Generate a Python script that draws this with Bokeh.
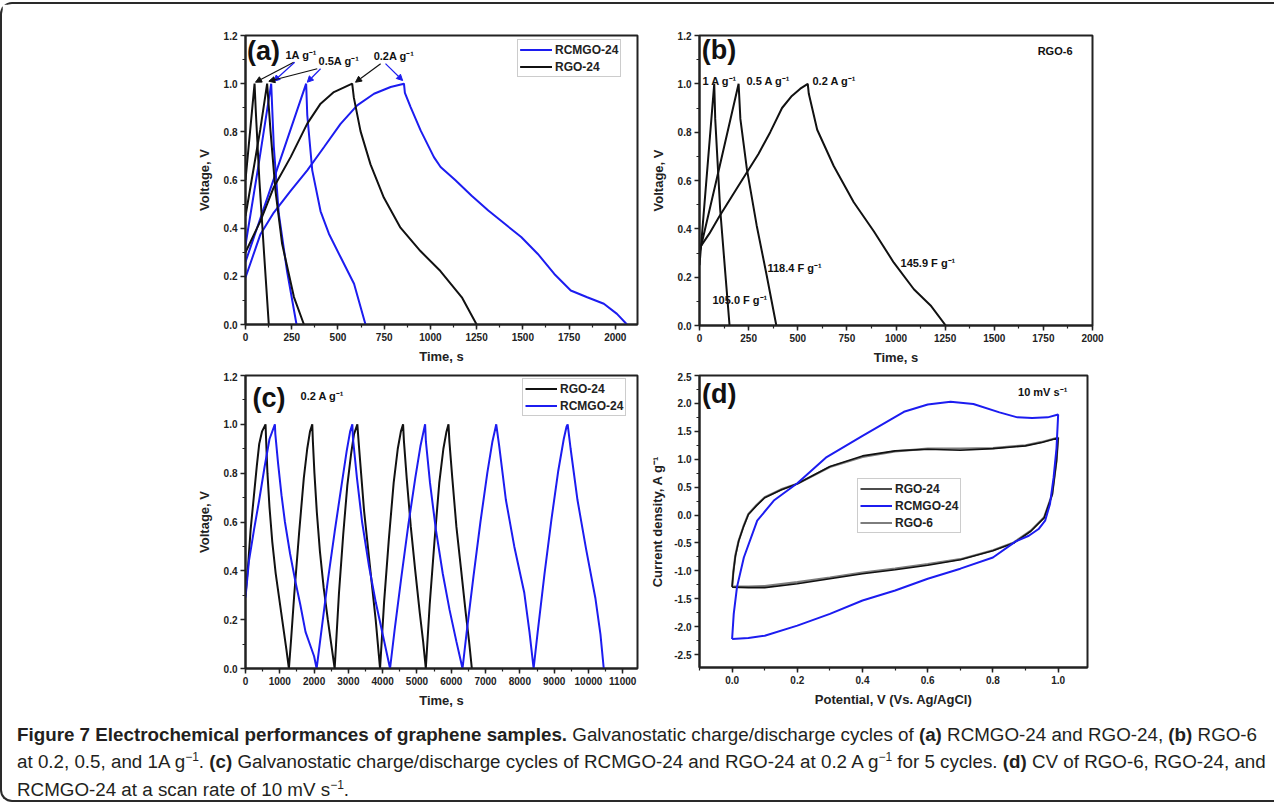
from bokeh.plotting import figure
from bokeh.models import (Range1d, SingleIntervalTicker, PrintfTickFormatter, Label,
                          Arrow, NormalHead, Legend, LegendItem, Div)
from bokeh.layouts import column, row
from bokeh.embed import file_html
from bokeh.resources import INLINE

FONT = "Liberation Sans"
BLUE = "#1c1cf0"
BLACK = "#111111"
GRAY = "#7d7d7d"

# ---------------- panel (a): RCMGO-24 and RGO-24 at 1, 0.5, 0.2 A/g ----------------
a_rgo_1A_t = [0, 49, 56, 75, 100, 126]
a_rgo_1A_v = [0.60, 1.0, 0.88, 0.60, 0.30, 0.0]
a_rgo_05A_t = [0, 40, 80, 117, 135, 162, 198, 262, 316]
a_rgo_05A_v = [0.45, 0.63, 0.81, 1.0, 0.806, 0.556, 0.335, 0.114, 0.0]
a_rgo_02A_t = [0, 81, 153, 244, 334, 406, 478, 577, 586, 622, 676, 748, 838, 946, 1054, 1170, 1250]
a_rgo_02A_v = [0.30, 0.43, 0.57, 0.695, 0.834, 0.917, 0.965, 1.0, 0.942, 0.803, 0.665, 0.527,
               0.402, 0.305, 0.222, 0.113, 0.0]
a_rcm_1A_t = [0, 70, 139, 153, 180, 225, 276]
a_rcm_1A_v = [0.33, 0.66, 1.0, 0.74, 0.46, 0.22, 0.0]
a_rcm_05A_t = [0, 160, 328, 334, 361, 406, 451, 514, 587, 649]
a_rcm_05A_v = [0.26, 0.62, 1.0, 0.87, 0.64, 0.47, 0.377, 0.28, 0.169, 0.0]
a_rcm_02A_t = [0, 81, 153, 244, 334, 424, 514, 604, 695, 785, 857, 862, 893, 947, 1019, 1055,
               1134, 1223, 1313, 1402, 1491, 1581, 1670, 1759, 1848, 1938, 2009, 2063]
a_rcm_02A_v = [0.195, 0.375, 0.465, 0.555, 0.64, 0.736, 0.833, 0.91, 0.958, 0.986, 1.0, 0.962,
               0.903, 0.806, 0.695, 0.654, 0.60, 0.535, 0.473, 0.418, 0.363, 0.293, 0.21,
               0.141, 0.113, 0.086, 0.044, 0.0]

# ---------------- panel (b): RGO-6 ----------------
b_1A_t = [0, 75, 80, 105, 131, 153]
b_1A_v = [0.25, 1.0, 0.855, 0.483, 0.22, 0.0]
b_05A_t = [0, 100, 199, 208, 241, 291, 342, 391]
b_05A_v = [0.30, 0.65, 1.0, 0.855, 0.648, 0.414, 0.207, 0.0]
b_02A_t = [0, 50, 100, 200, 300, 360, 420, 470, 513, 551, 556, 599, 683, 785, 887, 989, 1091,
           1176, 1253]
b_02A_v = [0.32, 0.38, 0.45, 0.58, 0.71, 0.80, 0.90, 0.95, 0.98, 1.0, 0.96, 0.81, 0.66, 0.51,
           0.39, 0.26, 0.15, 0.083, 0.0]

# ---------------- panel (c): 5 cycles at 0.2 A/g ----------------
c_rgo_t = [0, 80, 150, 240, 330, 400, 480, 584, 600, 640, 700, 780, 880, 1000, 1120, 1190, 1266,
           1330, 1420, 1560, 1700, 1800, 1880, 1947, 1965, 2010, 2080, 2170, 2280, 2400, 2500, 2600,
           2726, 2850, 2969, 3080, 3164, 3261, 3310, 3456, 3651, 3797, 3923,
           4040, 4180, 4320, 4440, 4530, 4595, 4620, 4700, 4820, 4950, 5080, 5180, 5257,
           5370, 5510, 5650, 5770, 5860, 5919, 5945, 6030, 6150, 6290, 6420, 6520, 6600]
c_rgo_v = [0.30, 0.43, 0.57, 0.70, 0.83, 0.92, 0.97, 1.0, 0.94, 0.80, 0.66, 0.52, 0.39, 0.27, 0.15, 0.08, 0.0,
           0.12, 0.30, 0.55, 0.78, 0.90, 0.97, 1.0, 0.93, 0.80, 0.64, 0.48, 0.33, 0.20, 0.10, 0.0,
           0.31, 0.55, 0.75, 0.88, 0.96, 1.0, 0.907, 0.648, 0.389, 0.198, 0.0,
           0.27, 0.53, 0.76, 0.90, 0.97, 1.0, 0.93, 0.78, 0.58, 0.40, 0.23, 0.11, 0.0,
           0.26, 0.52, 0.76, 0.90, 0.97, 1.0, 0.93, 0.78, 0.58, 0.40, 0.23, 0.11, 0.0]
c_rcm_t = [0, 100, 250, 400, 550, 700, 857, 870, 950, 1050, 1150, 1300, 1450, 1600, 1750, 1900, 2000, 2074,
           2200, 2400, 2600, 2800, 2950, 3050, 3115, 3135, 3250, 3400, 3600, 3800, 4000, 4215,
           4350, 4550, 4750, 4950, 5100, 5190, 5237, 5260, 5380, 5550, 5750, 5950, 6150, 6328,
           6450, 6650, 6850, 7050, 7200, 7280, 7311, 7399, 7593, 7837, 8129, 8280, 8401,
           8520, 8720, 8920, 9120, 9280, 9360, 9394, 9480, 9680, 9930, 10200, 10350, 10446]
c_rcm_v = [0.29, 0.44, 0.57, 0.69, 0.82, 0.94, 1.0, 0.96, 0.84, 0.71, 0.60, 0.47, 0.36, 0.26, 0.15, 0.09, 0.05, 0.0,
           0.14, 0.36, 0.56, 0.75, 0.89, 0.97, 1.0, 0.94, 0.78, 0.60, 0.42, 0.27, 0.14, 0.0,
           0.16, 0.38, 0.59, 0.78, 0.91, 0.97, 1.0, 0.93, 0.76, 0.57, 0.39, 0.24, 0.11, 0.0,
           0.15, 0.38, 0.60, 0.80, 0.93, 0.98, 1.0, 0.91, 0.69, 0.50, 0.31, 0.15, 0.0,
           0.15, 0.39, 0.61, 0.81, 0.94, 0.99, 1.0, 0.90, 0.69, 0.49, 0.29, 0.14, 0.0]

# ---------------- panel (d): CV at 10 mV/s ----------------
d_rcm_e = [0.0, 0.005, 0.015, 0.036, 0.077, 0.128, 0.2, 0.29, 0.4, 0.527, 0.6, 0.67, 0.74, 0.82,
           0.875, 0.92, 0.968, 1.0, 0.995, 0.986, 0.975, 0.96, 0.94, 0.91, 0.87, 0.8, 0.7, 0.6,
           0.5, 0.4, 0.3, 0.2, 0.1, 0.05, 0.0]
d_rcm_i = [-2.22, -1.77, -1.29, -0.76, -0.10, 0.26, 0.57, 1.04, 1.42, 1.85, 1.98, 2.03, 1.99, 1.84,
           1.75, 1.74, 1.75, 1.80, 1.20, 0.67, 0.20, -0.10, -0.25, -0.37, -0.47, -0.76, -0.96, -1.14,
           -1.35, -1.53, -1.77, -1.98, -2.16, -2.20, -2.22]
d_rgo6_e = [0.0, 0.004, 0.01, 0.02, 0.035, 0.05, 0.075, 0.1, 0.15, 0.2, 0.3, 0.4, 0.5, 0.6, 0.7,
            0.8, 0.9, 0.95, 1.0, 0.995, 0.982, 0.957, 0.916, 0.864, 0.8, 0.7, 0.6, 0.5, 0.4, 0.3,
            0.2, 0.1, 0.05, 0.0]
d_rgo6_i = [-1.28, -1.0, -0.72, -0.46, -0.2, 0.02, 0.18, 0.32, 0.46, 0.56, 0.86, 1.04, 1.14, 1.19,
            1.19, 1.20, 1.25, 1.31, 1.39, 0.98, 0.38, -0.04, -0.28, -0.49, -0.63, -0.79, -0.88,
            -0.96, -1.03, -1.12, -1.20, -1.27, -1.28, -1.28]
d_rgo24_e = [0.0, 0.004, 0.01, 0.02, 0.035, 0.05, 0.075, 0.1, 0.15, 0.2, 0.3, 0.4, 0.5, 0.6, 0.7,
             0.8, 0.9, 0.95, 1.0, 0.995, 0.982, 0.957, 0.916, 0.864, 0.8, 0.7, 0.6, 0.5, 0.4, 0.3,
             0.2, 0.1, 0.05, 0.0]
d_rgo24_i = [-1.29, -1.02, -0.74, -0.47, -0.21, 0.01, 0.17, 0.31, 0.45, 0.56, 0.87, 1.06, 1.15, 1.18,
             1.16, 1.19, 1.24, 1.30, 1.38, 0.97, 0.37, -0.05, -0.29, -0.50, -0.64, -0.80, -0.90,
             -0.98, -1.05, -1.14, -1.23, -1.30, -1.30, -1.29]

EPS = 1e-9


def make_fig(xr, yr, fw, fh, mbl, mbr, mbt, mbb):
    p = figure(x_range=Range1d(*xr), y_range=Range1d(*yr), frame_width=fw, frame_height=fh,
               min_border_left=mbl, min_border_right=mbr, min_border_top=mbt,
               min_border_bottom=mbb, output_backend="svg", toolbar_location=None, title=None)
    p.xgrid.visible = False
    p.ygrid.visible = False
    p.outline_line_color = "#222222"
    p.outline_line_width = 2
    p.outline_line_alpha = 1
    p.background_fill_color = "white"
    p.border_fill_color = "white"
    return p


def style_axes(p, xint, yint, xfmt, yfmt, xlabel, ylabel, ystand):
    for ax in (p.xaxis[0], p.yaxis[0]):
        ax.axis_line_width = 2
        ax.axis_line_color = "#222222"
        ax.major_tick_in = 0
        ax.major_tick_out = 5
        ax.minor_tick_in = 0
        ax.minor_tick_out = 3
        ax.major_tick_line_width = 1.5
        ax.minor_tick_line_width = 1.2
        ax.major_tick_line_color = "#222222"
        ax.minor_tick_line_color = "#222222"
        ax.major_label_text_font = FONT
        ax.major_label_text_font_size = "10px"
        ax.major_label_text_font_style = "bold"
        ax.major_label_text_color = "#222222"
        ax.axis_label_text_font = FONT
        ax.axis_label_text_font_size = "13px"
        ax.axis_label_text_font_style = "bold"
        ax.axis_label_text_color = "#222222"
        ax.major_label_standoff = 3
    p.xaxis[0].ticker = SingleIntervalTicker(interval=xint, num_minor_ticks=2)
    p.yaxis[0].ticker = SingleIntervalTicker(interval=yint, num_minor_ticks=2)
    p.xaxis[0].formatter = PrintfTickFormatter(format=xfmt)
    p.yaxis[0].formatter = PrintfTickFormatter(format=yfmt)
    p.xaxis[0].axis_label = xlabel
    p.yaxis[0].axis_label = ylabel
    p.xaxis[0].axis_label_standoff = 5
    p.yaxis[0].axis_label_standoff = ystand


def label(p, x, y, text, size="11px", align="left"):
    p.add_layout(Label(x=x, y=y, text=text, text_font=FONT, text_font_size=size,
                       text_font_style="bold", text_color="#111111", text_baseline="middle",
                       text_align=align))


def arrow(p, x0, y0, x1, y1, color):
    p.add_layout(Arrow(end=NormalHead(size=6, fill_color=color, line_color=color),
                       x_start=x0, y_start=y0, x_end=x1, y_end=y1,
                       line_color=color, line_width=1.2))


def legend(p, items, loc):
    lg = Legend(items=items, location=loc, label_text_font=FONT, label_text_font_size="12px",
                label_text_font_style="bold", label_text_color="#222222",
                border_line_color="#9a9a9a", border_line_width=1.2,
                background_fill_color="white", background_fill_alpha=1,
                glyph_width=32, glyph_height=15, label_height=15, padding=2, spacing=2,
                label_standoff=3, margin=0)
    p.add_layout(lg)


# ---------------- build panel (a) ----------------
pa = make_fig((0, 2120), (0, 1.2 + EPS), 392, 289, 243, 5, 31, 48)
style_axes(pa, 250, 0.2, "%d", "%.1f", "Time, s", "Voltage, V", 9)
ra = []
for t, v in ((a_rcm_1A_t, a_rcm_1A_v), (a_rcm_05A_t, a_rcm_05A_v), (a_rcm_02A_t, a_rcm_02A_v)):
    ra.append(pa.line(t, v, line_color=BLUE, line_width=2))
rb = []
for t, v in ((a_rgo_1A_t, a_rgo_1A_v), (a_rgo_05A_t, a_rgo_05A_v), (a_rgo_02A_t, a_rgo_02A_v)):
    rb.append(pa.line(t, v, line_color=BLACK, line_width=2))
label(pa, 8, 1.135, "(a)", size="27px")
label(pa, 216, 1.121, "1A g⁻¹")
label(pa, 395, 1.096, "0.5A g⁻¹")
label(pa, 693, 1.113, "0.2A g⁻¹")
arrow(pa, 261, 1.089, 54, 1.006, BLACK)
arrow(pa, 266, 1.089, 153, 1.01, BLUE)
arrow(pa, 388, 1.062, 126, 1.01, BLACK)
arrow(pa, 406, 1.062, 334, 1.006, BLUE)
arrow(pa, 731, 1.083, 595, 1.006, BLACK)
arrow(pa, 757, 1.083, 850, 1.013, BLUE)
legend(pa, [LegendItem(label="RCMGO-24", renderers=ra), LegendItem(label="RGO-24", renderers=rb)],
       (272, 247))

# ---------------- build panel (b) ----------------
pb = make_fig((0, 2000), (0, 1.2 + EPS), 393, 290, 57, 150, 29, 49)
style_axes(pb, 250, 0.2, "%d", "%.1f", "Time, s", "Voltage, V", 9)
for t, v in ((b_1A_t, b_1A_v), (b_05A_t, b_05A_v), (b_02A_t, b_02A_v)):
    pb.line(t, v, line_color=BLACK, line_width=2)
label(pb, 12, 1.14, "(b)", size="27px")
label(pb, 15, 1.01, "1 A g⁻¹")
label(pb, 239, 1.01, "0.5 A g⁻¹")
label(pb, 575, 1.01, "0.2 A g⁻¹")
label(pb, 346, 0.236, "118.4 F g⁻¹")
label(pb, 1023, 0.257, "145.9 F g⁻¹")
label(pb, 66, 0.107, "105.0 F g⁻¹")
label(pb, 1721, 1.134, "RGO-6")

# ---------------- build panel (c) ----------------
pc = make_fig((0, 11430), (0, 1.2 + EPS), 392, 293, 243, 5, 3, 44)
style_axes(pc, 1000, 0.2, "%d", "%.1f", "Time, s", "Voltage, V", 9)
rc1 = pc.line(c_rgo_t, c_rgo_v, line_color=BLACK, line_width=2)
rc2 = pc.line(c_rcm_t, c_rcm_v, line_color=BLUE, line_width=2)
label(pc, 204, 1.106, "(c)", size="27px")
label(pc, 1605, 1.114, "0.2 A g⁻¹")
legend(pc, [LegendItem(label="RGO-24", renderers=[rc1]), LegendItem(label="RCMGO-24", renderers=[rc2])],
       (277, 252))

# ---------------- build panel (d) ----------------
pd_ = make_fig((-0.1, 1.09), (-2.73, 2.5 + EPS), 388, 292, 57, 150, 3, 45)
style_axes(pd_, 0.2, 0.5, "%.1f", "%.1f", "Potential, V (Vs. Ag/AgCl)", "Current density, A g⁻¹", 6)
rd3 = pd_.line(d_rgo6_e, d_rgo6_i, line_color=GRAY, line_width=2.2)
rd1 = pd_.line(d_rgo24_e, d_rgo24_i, line_color=BLACK, line_width=1.6)
rd2 = pd_.line(d_rcm_e, d_rcm_i, line_color=BLUE, line_width=2)
label(pd_, -0.092, 2.16, "(d)", size="27px")
label(pd_, 0.877, 2.21, "10 mV s⁻¹")
legend(pd_, [LegendItem(label="RGO-24", renderers=[rd1]), LegendItem(label="RCMGO-24", renderers=[rd2]),
             LegendItem(label="RGO-6", renderers=[rd3])], (158, 134))

sup = '<span style="font-size:12px; position:relative; top:-7px;">&minus;1</span>'
caption_html = (
    '<div style="font-family: \'Liberation Sans Narrow\', \'Arial Narrow\', sans-serif; '
    'font-size:18.8px; line-height:26.5px; color:#231f20; white-space:nowrap;">'
    '<b>Figure 7 Electrochemical performances of graphene samples.</b> Galvanostatic '
    'charge/discharge cycles of <b>(a)</b> RCMGO-24 and RGO-24, <b>(b)</b> RGO-6<br>'
    'at 0.2, 0.5, and 1A g' + sup + '. <b>(c)</b> Galvanostatic charge/discharge cycles of '
    'RCMGO-24 and RGO-24 at 0.2 A g' + sup + ' for 5 cycles. <b>(d)</b> CV of RGO-6, RGO-24, and<br>'
    'RCMGO-24 at a scan rate of 10 mV s' + sup + '.</div>'
)
cap = Div(text=caption_html, width=1262, height=78, styles={"padding-left": "10px", "padding-top": "5px"})

layout = column(row(pa, pb), row(pc, pd_), cap,
                styles={"border": "2px solid #2a2a2a", "border-right": "none",
                        "border-radius": "12px 0 0 12px", "margin-top": "2px"})

open("out.html", "w").write(file_html(layout, INLINE))
